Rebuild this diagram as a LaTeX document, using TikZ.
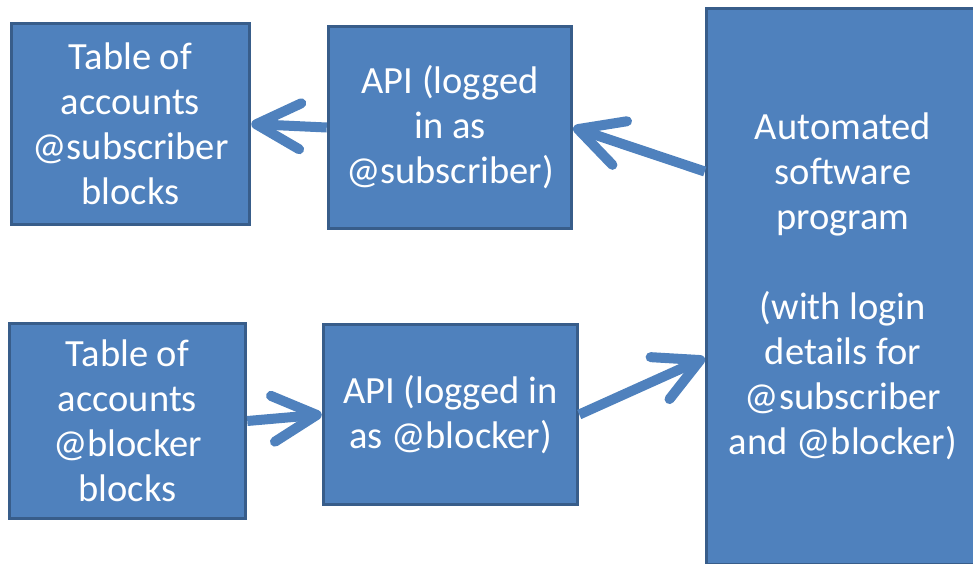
\documentclass[tikz,border=0pt]{standalone}
\usepackage{fontspec}
\setmainfont{Carlito}
\usetikzlibrary{positioning, arrows.meta}
\definecolor{boxfill}{HTML}{4F81BD}
\definecolor{boxline}{HTML}{385D8A}

\begin{document}
\begin{tikzpicture}[x=1pt,y=-1pt,
    box/.style={shape=rectangle,draw=boxline,line width=3.5pt,fill=boxfill,text=white,align=center,inner sep=0pt,font=\fontsize{38.5}{45}\selectfont},
    link/.style={draw=boxfill,line width=10pt,-{Straight Barb[length=44pt,width=46pt,round]}},]
    \useasboundingbox (0,0) rectangle (973,563);
    % create the nodes
    \node[box,minimum width=238pt,minimum height=201pt] (t1) at (130.5,124) {Table of\\accounts\\@subscriber\\blocks}; %subscriber table
    \node[box,minimum width=243pt,minimum height=202pt] (a1) at (450,127.5) {API (logged\\in as\\@subscriber)};
    \node[box,minimum width=236pt,minimum height=195pt] (t2) at (127.5,421) {Table of\\accounts\\@blocker\\blocks}; %blocker table
    \node[box,minimum width=254pt,minimum height=180pt] (a2) at (450.5,414.5) {API (logged in\\as @blocker)};
    \node[box,minimum width=273pt,minimum height=556pt] (prog) at (843,286.5) {Automated\\software\\program\\[45pt](with login\\details for\\@subscriber\\and @blocker)}; %runs off the page
    % connect them
    \draw[link] (a1.west) -- (t1.east);
    \draw[link] ([yshift=115pt]prog.west) -- (a1.east);
    \draw[link] (t2.east) -- (a2.west);
    \draw[link] (a2.east) -- ([yshift=-71.5pt]prog.west);
\end{tikzpicture}
\end{document}
